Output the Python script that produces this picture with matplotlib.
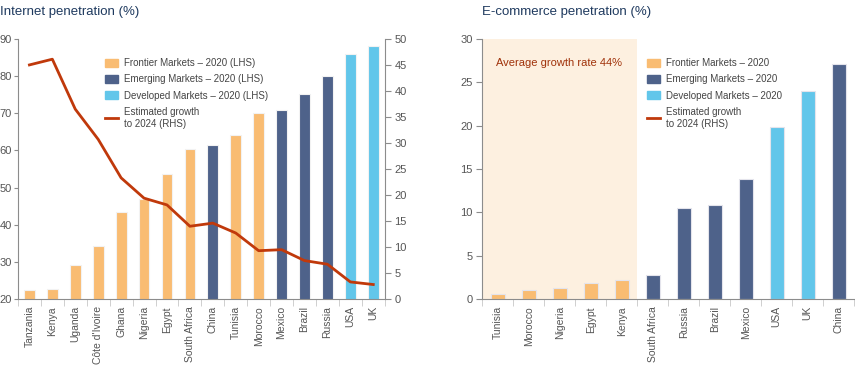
import numpy as np
import matplotlib.pyplot as plt
from matplotlib.patches import Patch
from matplotlib.lines import Line2D

plt.rcParams['font.family'] = ['Liberation Sans', 'DejaVu Sans']

# Internet penetration (left chart)
net_countries = ["Tanzania", "Kenya", "Uganda", "Côte d'Ivoire", "Ghana", "Nigeria", "Egypt",
                 "South Africa", "China", "Tunisia", "Morocco", "Mexico", "Brazil", "Russia", "USA", "UK"]
net_values = [22.4, 22.7, 29.2, 34.3, 43.3, 46.9, 53.7, 60.4, 61.5, 64.1, 70.0, 70.8, 75.3, 79.9, 86.0, 88.0]
net_groups = ["F", "F", "F", "F", "F", "F", "F", "F", "E", "F", "F", "E", "E", "E", "D", "D"]
net_growth = [45.0, 46.1, 36.5, 30.7, 23.3, 19.4, 18.1, 14.0, 14.6, 12.7, 9.3, 9.5, 7.4, 6.7, 3.3, 2.8]

# E-commerce penetration (right chart)
ec_countries = ["Tunisia", "Morocco", "Nigeria", "Egypt", "Kenya", "South Africa", "Russia",
                "Brazil", "Mexico", "USA", "UK", "China"]
ec_values = [0.6, 1.1, 1.3, 1.8, 2.2, 2.8, 10.5, 10.8, 13.9, 19.8, 24.0, 27.1]
ec_groups = ["F", "F", "F", "F", "F", "E", "E", "E", "E", "D", "D", "E"]

colors = {"F": "#F9BC72", "E": "#4E628A", "D": "#62C6EA"}
line_color = "#C0390B"
title_color = "#1F3A5F"
tick_color = "#555555"
spine_color = "#8C8C8C"

fig = plt.figure(figsize=(8.55, 3.67), dpi=100)


def style_axis(ax, n):
    for s in ["top", "right"]:
        ax.spines[s].set_visible(False)
    for s in ["left", "bottom"]:
        ax.spines[s].set_color(spine_color)
    ax.set_xlim(-0.5, n - 0.5)
    ax.set_xticks(np.arange(n))
    ax.set_xticks(np.arange(n + 1) - 0.5, minor=True)
    ax.tick_params(axis="x", which="major", length=0, labelrotation=90, labelsize=7.5,
                   labelcolor=tick_color, pad=5)
    ax.tick_params(axis="x", which="minor", length=5, color="#C8C8C8")
    ax.tick_params(axis="y", length=3, color=spine_color, labelsize=8, labelcolor=tick_color, pad=1.5)


def add_legend(ax, labels, anchor):
    handles = [Patch(color=colors["F"]), Patch(color=colors["E"]), Patch(color=colors["D"]),
               Line2D([0], [0], color=line_color, linewidth=2)]
    ax.legend(handles, labels, loc="upper left", bbox_to_anchor=anchor,
              bbox_transform=fig.transFigure, frameon=False, fontsize=7, labelcolor="#444444",
              handlelength=1.3, handleheight=0.9, labelspacing=0.65, handletextpad=0.7,
              borderpad=0, borderaxespad=0)


# Left chart
ax1 = fig.add_axes([0.021, 0.185, 0.429, 0.709])
x1 = np.arange(len(net_countries))
ax1.bar(x1, net_values, width=0.47, color=[colors[g] for g in net_groups],
        edgecolor="#F2F2F2", linewidth=0.8, zorder=2)
ax1.set_ylim(20, 90)
ax1.set_yticks(np.arange(20, 91, 10))
style_axis(ax1, len(net_countries))
ax1.set_xticklabels(net_countries)

ax1b = ax1.twinx()
ax1b.plot(x1, net_growth, color=line_color, linewidth=2, zorder=3)
ax1b.set_ylim(0, 50)
ax1b.set_yticks(np.arange(0, 51, 5))
for s in ["top", "left", "bottom"]:
    ax1b.spines[s].set_visible(False)
ax1b.spines["right"].set_color(spine_color)
ax1b.tick_params(axis="y", length=4, color=spine_color, labelsize=8, labelcolor=tick_color, pad=3)

add_legend(ax1b, ["Frontier Markets – 2020 (LHS)", "Emerging Markets – 2020 (LHS)",
                  "Developed Markets – 2020 (LHS)", "Estimated growth\nto 2024 (RHS)"],
           (105 / 855, 1 - 58 / 367))

fig.text(0.0, 0.985, "Internet penetration (%)", fontsize=9.5, color=title_color,
         ha="left", va="top")

# Right chart
ax2 = fig.add_axes([0.564, 0.185, 0.435, 0.709])
x2 = np.arange(len(ec_countries))
ax2.axvspan(-0.5, 4.5, color="#FDF0E0", zorder=0, linewidth=0)
ax2.bar(x2, ec_values, width=0.46, color=[colors[g] for g in ec_groups],
        edgecolor="#E4E4EC", linewidth=0.8, zorder=2)
ax2.set_ylim(0, 30)
ax2.set_yticks(np.arange(0, 31, 5))
style_axis(ax2, len(ec_countries))
ax2.tick_params(axis="y", length=4, pad=3)
ax2.set_xticklabels(ec_countries)
ax2.text(1.98, 27.2, "Average growth rate 44%", fontsize=8, color="#A0320A",
         ha="center", va="center")

add_legend(ax2, ["Frontier Markets – 2020", "Emerging Markets – 2020",
                 "Developed Markets – 2020", "Estimated growth\nto 2024 (RHS)"],
           (647 / 855, 1 - 58 / 367))

fig.text(0.5635, 0.985, "E-commerce penetration (%)", fontsize=9.5, color=title_color,
         ha="left", va="top")

fig.savefig("out.png", dpi=100)
